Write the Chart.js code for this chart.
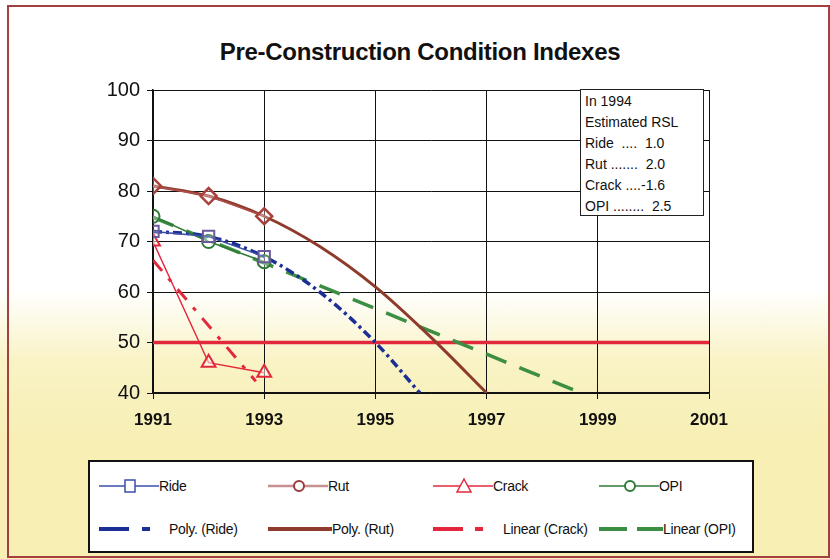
<!DOCTYPE html>
<html>
<head>
<meta charset="utf-8">
<script src="https://cdn.jsdelivr.net/npm/chart.js@4.4.0/dist/chart.umd.min.js"></script>
<style>
  html, body { margin: 0; padding: 0; }
  body {
    width: 830px; height: 559px; position: relative; overflow: hidden;
    background: linear-gradient(to bottom, #ffffff 0px, #ffffff 290px, #f9f3c6 360px, #f7efb4 440px, #f7efb4 559px);
    font-family: "Liberation Sans", Arial, sans-serif;
  }
  #frame { position: absolute; left: 7px; top: 5px; width: 819px; height: 549px; border: 2px solid #a3403f; }
  #title { position: absolute; left: 0; width: 840px; top: 38px; text-align: center; font-weight: bold; font-size: 24px; letter-spacing: -0.3px; color: #111; }
  #myChart { position: absolute; left: 0; top: 0; }
  #note {
    position: absolute; left: 580px; top: 89px; width: 118px; height: 124px;
    background: #fff; border: 1.5px solid #222; padding: 1px 0 0 4px;
    font-size: 14px; line-height: 21px; color: #111; white-space: pre;
  }
  #legend { position: absolute; left: 88px; top: 460px; width: 662px; height: 89px; background: #fff; border: 2px solid #111; }
  .item { position: absolute; height: 20px; display: flex; align-items: center; }
  .item span { font-family: "Liberation Sans Narrow", "Liberation Sans", Arial, sans-serif; font-size: 14px; color: #111; letter-spacing: -0.3px; }
  .item svg { display: block; }
</style>
</head>
<body>
<div id="frame"></div>
<div id="title">Pre-Construction Condition Indexes</div>
<canvas id="myChart" width="830" height="559"></canvas>
<div id="note">In 1994
Estimated RSL
Ride  ....  1.0
Rut .......  2.0
Crack ....-1.6
OPI ........  2.5</div>
<div id="legend"></div>
<script>
// measured series
var years = [1991, 1992, 1993];
var ride = [72, 71, 67];
var rut = [81, 79, 75];
var crack = [70, 46, 44];
var opi = [75, 70, 66];

// trend lines
var polyRideYears = [1991, 1992, 1993, 1994, 1995, 1995.8];
var polyRide = [72, 71, 67, 60, 50, 40];
var polyRutYears = [1991, 1992, 1993, 1994, 1995, 1996, 1997];
var polyRut = [81, 79, 75, 69, 61, 51, 40];
var linCrackYears = [1991, 1992.85];
var linCrack = [66.3, 42.3];
var linOpiYears = [1991, 1998.7];
var linOpi = [74.8, 40];
var limitYears = [1991, 2001];
var limit = [50, 50];

var xTicks = [1991, 1993, 1995, 1997, 1999, 2001];

function pts(xs, ys) {
  return xs.map(function (x, i) { return {x: x, y: ys[i]}; });
}

var blue = "#3a4fa8", darkBlue = "#1c2f95", rutCol = "#b0504c", brown = "#8e3b2c",
    red = "#e3283c", green = "#2f7a36", green2 = "#3c8f42";

var datasets = [
  {label: "Ride", data: pts(years, ride), borderColor: blue, borderWidth: 1.5, pointStyle: "rect",
   pointRadius: 8, pointBackgroundColor: "rgba(255,255,255,0.2)", pointBorderColor: "#6a5a9a", pointBorderWidth: 2},
  {label: "Rut", data: pts(years, rut), borderColor: rutCol, borderWidth: 1.5, pointStyle: "rectRot",
   pointRadius: 8, pointBackgroundColor: "rgba(255,255,255,0.3)", pointBorderColor: "#a8403c", pointBorderWidth: 2.5},
  {label: "Crack", data: pts(years, crack), borderColor: red, borderWidth: 1.5, pointStyle: "triangle",
   pointRadius: 8, pointBackgroundColor: "rgba(255,255,255,0.5)", pointBorderColor: red, pointBorderWidth: 2},
  {label: "OPI", data: pts(years, opi), borderColor: green, borderWidth: 1.5, pointStyle: "circle",
   pointRadius: 6.5, pointBackgroundColor: "rgba(255,255,255,0.3)", pointBorderColor: green, pointBorderWidth: 2},
  {label: "Poly. (Ride)", data: pts(polyRideYears, polyRide), borderColor: darkBlue, borderWidth: 3.5,
   borderDash: [9, 4, 3, 4], pointRadius: 0, cubicInterpolationMode: "monotone"},
  {label: "Poly. (Rut)", data: pts(polyRutYears, polyRut), borderColor: brown, borderWidth: 3,
   pointRadius: 0, cubicInterpolationMode: "monotone"},
  {label: "Linear (Crack)", data: pts(linCrackYears, linCrack), borderColor: red, borderWidth: 3,
   borderDash: [14, 10, 4, 10], pointRadius: 0},
  {label: "Linear (OPI)", data: pts(linOpiYears, linOpi), borderColor: green2, borderWidth: 3.5,
   borderDash: [22, 14], pointRadius: 0},
  {label: "Limit", data: pts(limitYears, limit), borderColor: red, borderWidth: 3.5, pointRadius: 0}
];

new Chart("myChart", {
  type: "line",
  data: {datasets: datasets},
  options: {
    responsive: false,
    animation: false,
    layout: {padding: {left: 0, right: 121, top: 90, bottom: 126}},
    plugins: {legend: {display: false}, tooltip: {enabled: false}, title: {display: false}},
    scales: {
      x: {
        type: "linear", min: 1991, max: 2001,
        afterBuildTicks: function (s) { s.ticks = xTicks.map(function (v) { return {value: v}; }); },
        afterFit: function (s) { s.height = 40; },
        grid: {color: "#111", lineWidth: 1, tickLength: 6, drawTicks: true},
        border: {color: "#111", width: 1.5},
        ticks: {padding: 11, color: "#111", autoSkip: false, maxRotation: 0,
                font: {family: "Liberation Sans", size: 17, weight: "bold"},
                callback: function (v) { return String(v); }}
      },
      y: {
        min: 40, max: 100,
        afterFit: function (s) { s.width = 153; },
        grid: {color: "#111", lineWidth: 1, tickLength: 6},
        border: {color: "#111", width: 1.5},
        ticks: {stepSize: 10, padding: 7, color: "#111",
                font: {family: "Liberation Sans", size: 20}}
      }
    }
  }
});

// legend, laid out in two rows of four like the original
var legendItems = [
  {text: "Ride", x: 9, row: 0, color: blue, dash: null, w: 1.5, marker: "rect", mColor: blue},
  {text: "Rut", x: 178, row: 0, color: "#c89090", dash: null, w: 2.5, marker: "circle", mColor: "#9a3a3a"},
  {text: "Crack", x: 343, row: 0, color: red, dash: null, w: 1.5, marker: "triangle", mColor: red},
  {text: "OPI", x: 509, row: 0, color: green, dash: null, w: 1.5, marker: "circle", mColor: green},
  {text: "Poly. (Ride)", x: 9, row: 1, color: darkBlue, dash: "30 13 8 13", w: 4, marker: null},
  {text: "Poly. (Rut)", x: 178, row: 1, color: brown, dash: null, w: 4, marker: null},
  {text: "Linear (Crack)", x: 343, row: 1, color: red, dash: "30 12 8 14", w: 4, marker: null},
  {text: "Linear (OPI)", x: 509, row: 1, color: green2, dash: "28 10 30", w: 4, marker: null}
];

var legend = document.getElementById("legend");
legendItems.forEach(function (it) {
  var L = it.marker ? 60 : 64;
  var svg = '<svg width="' + L + '" height="20">';
  svg += '<line x1="0" y1="10" x2="' + L + '" y2="10" stroke="' + it.color + '" stroke-width="' + it.w + '"' +
         (it.dash ? ' stroke-dasharray="' + it.dash + '"' : '') + '/>';
  var c = L / 2 + 1;
  if (it.marker === "rect") svg += '<rect x="' + (c - 5) + '" y="4" width="10" height="12" fill="#fff" stroke="' + it.mColor + '" stroke-width="1.5"/>';
  if (it.marker === "circle") svg += '<circle cx="' + c + '" cy="10" r="5" fill="#fff" stroke="' + it.mColor + '" stroke-width="2"/>';
  if (it.marker === "triangle") svg += '<polygon points="' + (c - 7) + ',16 ' + (c + 7) + ',16 ' + c + ',3" fill="#fff" stroke="' + it.mColor + '" stroke-width="1.5"/>';
  svg += '</svg>';
  var d = document.createElement("div");
  d.className = "item";
  d.style.left = it.x + "px";
  d.style.top = (it.row === 0 ? 14 : 57) + "px";
  d.innerHTML = svg + '<span' + (it.row === 1 && it.text.indexOf("Rut") < 0 && it.text.indexOf("OPI") < 0 ? ' style="margin-left:6px"' : '') + '>' + it.text + '</span>';
  legend.appendChild(d);
});
</script>
</body>
</html>
